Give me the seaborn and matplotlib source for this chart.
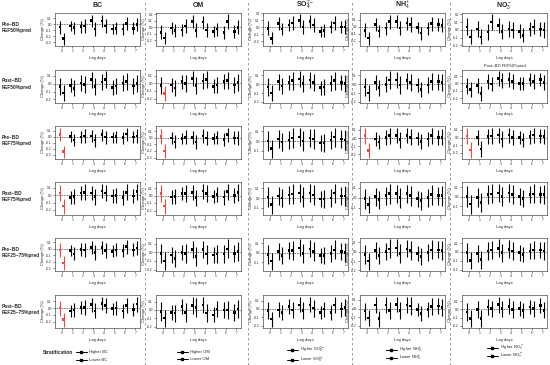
import matplotlib
matplotlib.use("Agg")
import matplotlib.pyplot as plt
from matplotlib.lines import Line2D
from matplotlib.ticker import MultipleLocator, FormatStrFormatter
import seaborn as sns
import pandas as pd
import numpy as np

# ---- data ----
POLLUTANTS = ["BC", "OM", "SO4", "NH4", "NO3"]
TITLES = ["BC", "OM", r"SO$_4^{2-}$", r"NH$_4^+$", r"NO$_3^-$"]
ROW_LABELS = ["Pre–BD\nFEF50%pred", "Post–BD\nFEF50%pred",
              "Pre–BD\nFEF75%pred", "Post–BD\nFEF75%pred",
              "Pre–BD\nFEF25–75%pred", "Post–BD\nFEF25–75%pred"]
LAGS = [0, 1, 2, 3, 4, 5, 6, 7]

BC_HIGH = [[-0.05, -0.03, -0.04, 0.06, 0.05, -0.08, -0.08, -0.07],
           [-0.04, -0.02, 0.01, 0.05, 0.02, -0.05, 0.01, -0.03],
           [0.03, 0.00, -0.01, 0.01, 0.03, -0.01, -0.02, -0.01],
           [0.03, -0.03, 0.03, 0.03, 0.06, -0.01, -0.03, -0.01],
           [-0.02, -0.03, -0.01, 0.02, 0.02, -0.04, -0.03, -0.02],
           [0.00, -0.04, 0.01, 0.05, 0.07, -0.01, -0.04, -0.02]]
BC_LOW = [[-0.24, -0.06, -0.03, -0.08, -0.03, -0.07, 0.01, -0.01],
          [-0.12, -0.06, -0.01, -0.04, 0.05, -0.03, 0.03, 0.00],
          [-0.25, -0.06, 0.01, -0.06, -0.01, 0.00, 0.04, 0.01],
          [-0.15, -0.02, 0.04, -0.02, 0.03, 0.00, 0.04, 0.05],
          [-0.22, -0.08, -0.02, -0.06, -0.03, -0.02, 0.03, 0.01],
          [-0.17, -0.03, 0.01, -0.04, 0.04, 0.00, 0.04, 0.06]]
OM_HIGH = [[-0.08, -0.01, -0.04, 0.09, 0.08, -0.07, -0.08, -0.07],
           [-0.03, -0.02, 0.02, 0.06, 0.03, -0.04, 0.02, -0.02],
           [0.02, 0.00, -0.01, 0.01, 0.03, -0.01, -0.02, 0.00],
           [0.03, -0.02, 0.03, 0.04, 0.06, -0.01, -0.02, 0.00],
           [-0.01, -0.03, 0.00, 0.03, 0.03, -0.03, -0.02, -0.01],
           [-0.02, -0.03, 0.04, 0.05, 0.06, -0.06, 0.00, -0.03]]
OM_LOW = [[-0.17, -0.05, 0.02, -0.05, -0.04, -0.03, 0.09, 0.00],
          [-0.13, -0.06, 0.00, -0.03, 0.05, -0.02, 0.04, 0.01],
          [-0.20, -0.06, 0.01, -0.06, 0.00, 0.01, 0.05, 0.00],
          [-0.14, -0.01, 0.03, -0.03, 0.03, 0.01, 0.05, 0.04],
          [-0.10, -0.07, -0.01, -0.05, -0.02, -0.02, 0.04, 0.01],
          [-0.10, -0.04, -0.03, 0.03, -0.04, 0.01, 0.00, 0.01]]
SO4_HIGH = [[-0.02, 0.05, 0.03, 0.09, 0.08, -0.06, 0.00, 0.00],
            [-0.03, 0.03, 0.02, 0.06, 0.05, -0.04, 0.01, 0.02],
            [0.00, 0.02, 0.01, 0.04, 0.03, -0.02, 0.01, 0.02],
            [0.01, 0.02, 0.03, 0.05, 0.05, -0.01, 0.00, 0.02],
            [-0.02, 0.01, 0.02, 0.05, 0.04, -0.03, -0.01, 0.01],
            [-0.02, -0.01, 0.03, 0.05, 0.05, -0.04, -0.04, 0.00]]
SO4_LOW = [[-0.16, -0.03, 0.06, 0.00, 0.03, -0.05, 0.06, 0.00],
           [-0.10, -0.02, 0.04, 0.01, 0.02, -0.03, 0.04, 0.01],
           [-0.08, -0.01, 0.03, 0.00, 0.02, -0.02, 0.04, 0.01],
           [-0.07, 0.00, 0.04, 0.01, 0.03, -0.01, 0.05, 0.02],
           [-0.09, -0.03, 0.02, -0.01, 0.01, -0.03, 0.03, 0.00],
           [-0.12, -0.04, -0.01, -0.02, 0.01, 0.00, 0.05, 0.02]]
NH4_HIGH = [[-0.05, 0.03, -0.02, 0.07, 0.05, -0.01, -0.02, 0.03],
            [-0.03, 0.02, 0.00, 0.05, 0.04, -0.01, -0.01, 0.03],
            [0.03, -0.01, 0.01, 0.03, 0.03, 0.00, -0.01, 0.01],
            [-0.01, 0.01, 0.02, 0.04, 0.04, -0.01, 0.00, 0.02],
            [-0.03, 0.01, 0.00, 0.04, 0.03, -0.02, -0.01, 0.02],
            [-0.03, 0.04, 0.04, 0.05, 0.04, -0.01, -0.01, 0.03]]
NH4_LOW = [[-0.16, -0.06, 0.07, -0.02, 0.03, -0.09, 0.04, 0.02],
           [-0.10, -0.04, 0.05, -0.01, 0.02, -0.06, 0.03, 0.02],
           [-0.15, -0.05, 0.03, -0.02, 0.01, -0.04, 0.03, 0.01],
           [-0.07, -0.02, 0.04, 0.00, 0.02, -0.03, 0.03, 0.02],
           [-0.10, -0.04, 0.03, -0.02, 0.01, -0.05, 0.02, 0.01],
           [-0.11, -0.12, -0.02, -0.02, 0.03, -0.06, 0.02, 0.01]]
NO3_HIGH = [[0.04, 0.01, -0.03, 0.06, 0.01, -0.02, 0.01, 0.01],
            [-0.04, -0.03, 0.03, 0.07, 0.05, 0.00, 0.05, 0.05],
            [0.02, 0.00, 0.01, 0.03, 0.03, 0.00, 0.01, 0.02],
            [0.00, -0.01, 0.02, 0.04, 0.04, 0.00, 0.02, 0.02],
            [-0.01, -0.02, 0.01, 0.04, 0.03, -0.01, 0.01, 0.02],
            [-0.03, 0.00, 0.03, 0.06, 0.04, 0.01, 0.03, 0.05]]
NO3_LOW = [[-0.09, -0.09, 0.10, -0.02, 0.00, -0.07, 0.04, 0.00],
           [-0.08, -0.14, -0.01, 0.04, 0.03, 0.00, 0.03, 0.01],
           [-0.16, -0.15, 0.02, -0.02, 0.00, -0.03, 0.03, 0.01],
           [-0.08, -0.06, 0.03, 0.00, 0.02, -0.02, 0.03, 0.02],
           [-0.10, -0.09, 0.02, -0.01, 0.01, -0.03, 0.02, 0.01],
           [-0.11, -0.11, 0.01, 0.01, 0.00, -0.01, 0.01, -0.01]]

# CI half-widths per lag (higher / lower group)
ERR_HIGH = {"BC": [0.11, 0.09, 0.10, 0.10, 0.10, 0.09, 0.10, 0.10],
            "OM": [0.11, 0.09, 0.09, 0.10, 0.10, 0.09, 0.10, 0.10],
            "SO4": [0.10, 0.09, 0.09, 0.09, 0.09, 0.08, 0.09, 0.09],
            "NH4": [0.10, 0.09, 0.09, 0.09, 0.09, 0.08, 0.09, 0.09],
            "NO3": [0.11, 0.10, 0.10, 0.10, 0.10, 0.09, 0.09, 0.09]}
ERR_LOW = {"BC": [0.10, 0.10, 0.11, 0.11, 0.11, 0.10, 0.11, 0.11],
           "OM": [0.10, 0.10, 0.11, 0.11, 0.11, 0.10, 0.11, 0.11],
           "SO4": [0.09, 0.09, 0.10, 0.10, 0.10, 0.09, 0.10, 0.10],
           "NH4": [0.09, 0.09, 0.10, 0.10, 0.10, 0.09, 0.10, 0.10],
           "NO3": [0.10, 0.10, 0.10, 0.10, 0.10, 0.09, 0.10, 0.10]}

# significant estimates at lag 0: (row, pollutant, group)
SIGNIFICANT = [(1, "OM", "Lower"),
               (2, "BC", "Higher"), (2, "BC", "Lower"),
               (2, "OM", "Higher"), (2, "OM", "Lower"),
               (2, "NH4", "Higher"), (2, "NH4", "Lower"),
               (2, "NO3", "Higher"), (2, "NO3", "Lower"),
               (3, "BC", "Higher"), (3, "BC", "Lower"),
               (3, "OM", "Higher"), (3, "OM", "Lower"),
               (4, "BC", "Higher"), (4, "BC", "Lower"),
               (5, "BC", "Higher"), (5, "BC", "Lower")]

HIGH = {"BC": BC_HIGH, "OM": OM_HIGH, "SO4": SO4_HIGH, "NH4": NH4_HIGH, "NO3": NO3_HIGH}
LOW = {"BC": BC_LOW, "OM": OM_LOW, "SO4": SO4_LOW, "NH4": NH4_LOW, "NO3": NO3_LOW}

# long table
records = []
for p in POLLUTANTS:
    for r in range(6):
        for g, vals, errs, off in (("Higher", HIGH[p], ERR_HIGH[p], -0.17),
                                   ("Lower", LOW[p], ERR_LOW[p], 0.17)):
            for i, lag in enumerate(LAGS):
                sig = (lag == 0) and ((r, p, g) in SIGNIFICANT)
                records.append(dict(pollutant=p, row=r, group=g, lag=lag,
                                    pos=lag + off, est=vals[r][i], err=errs[i],
                                    sig=sig))
df = pd.DataFrame(records)

sns.set_style("ticks")
plt.rcParams["font.family"] = ["Liberation Sans", "DejaVu Sans"]
plt.rcParams["mathtext.fontset"] = "custom"
plt.rcParams["mathtext.rm"] = "Liberation Sans"
plt.rcParams["mathtext.it"] = "Liberation Sans:italic"
plt.rcParams["mathtext.bf"] = "Liberation Sans:bold"
RED = "#ee4b3b"

W, H = 550, 365
fig = plt.figure(figsize=(5.5, 3.65), dpi=100)

LEFTS = [55, 156, 263, 360, 462]
TOPS = [13, 69.5, 126, 182, 238, 295]
PW, PH = 85, 33

for c, p in enumerate(POLLUTANTS):
    for r in range(6):
        ax = fig.add_axes([LEFTS[c] / W, 1 - (TOPS[r] + PH) / H, PW / W, PH / H])
        sub = df[(df.pollutant == p) & (df.row == r)]
        ax.axhline(0, ls=(0, (1, 1)), color="0.25", lw=0.6, zorder=1)
        cols = [RED if s else "black" for s in sub.sig]
        ax.vlines(sub.pos, sub.est - sub.err, sub.est + sub.err, colors=cols, lw=0.8, zorder=2)
        sns.scatterplot(data=sub, x="pos", y="est", hue="sig",
                        palette={False: "black", True: RED}, marker="s", s=3.5,
                        linewidth=0, legend=False, ax=ax, zorder=3)
        ax.set_xlim(-0.65, 7.45)
        ax.set_xticks(LAGS)
        ax.margins(y=0.05)
        ax.yaxis.set_major_locator(MultipleLocator(0.1))
        ax.yaxis.set_major_formatter(FormatStrFormatter("%.1f"))
        ax.tick_params(labelsize=2.3, length=1.5, width=0.4, pad=0.8)
        for s in ax.spines.values():
            s.set_linewidth(0.5)
            s.set_color("0.3")
        ax.set_xlabel("Lag days", fontsize=3, labelpad=2)
        ax.set_ylabel("Change (%)", fontsize=3, labelpad=1)
        if r == 0:
            ax.set_title(TITLES[c], fontsize=5, fontweight="bold", pad=4)
        if r == 1 and p == "NO3":
            ax.set_title("Post–BD FEF50%pred", fontsize=3, pad=2)

# row labels
for r, lab in enumerate(ROW_LABELS):
    fig.text(2 / W, 1 - (TOPS[r] + PH / 2 - 2) / H, lab, fontsize=3.5,
             fontweight="bold", ha="left", va="center", linespacing=1.3)

# dashed separators
for x in [145, 248, 352, 450]:
    fig.add_artist(Line2D([x / W, x / W], [0, 1], transform=fig.transFigure,
                          color="0.55", lw=0.6, ls=(0, (3, 3))))

# legends (one entry each so rows sit where the reference has them)
fig.text(43 / W, 1 - 352 / H, "Stratification", fontsize=3.5,
         fontweight="bold", va="center")
LEG_NAMES = ["BC", "OM", r"SO$_4^{2-}$", r"NH$_4^+$", r"NO$_3^-$"]
LEG_X = [76, 177, 287, 386, 487]
LEG_Y_HIGH = [352, 352, 350, 350, 348]
LEG_Y_LOW = [360, 359, 360, 358, 356]
for c in range(5):
    for prefix, ycen in (("Higher ", LEG_Y_HIGH[c]), ("Lower ", LEG_Y_LOW[c])):
        h = Line2D([], [], color="black", marker="s", ms=1.6, lw=0.7)
        fig.legend([h], [prefix + LEG_NAMES[c]],
                   loc="center left", bbox_to_anchor=(LEG_X[c] / W, 1 - ycen / H),
                   frameon=False, fontsize=3.0, handlelength=2.6,
                   borderpad=0, borderaxespad=0, handletextpad=0.6)

fig.savefig("out.png", dpi=100)
